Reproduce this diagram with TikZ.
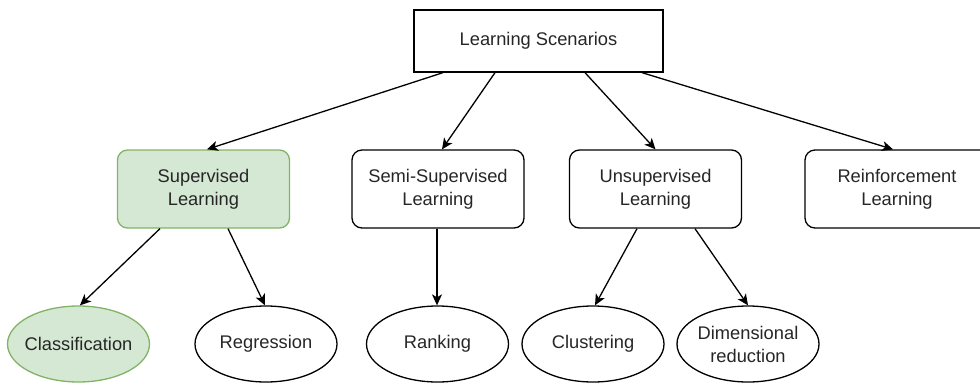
\documentclass[tikz,border=0pt]{standalone}
\usepackage{fontspec}
\setmainfont{Liberation Sans}
\usetikzlibrary{arrows.meta,shapes.geometric}
\definecolor{txt}{HTML}{262626}
\definecolor{greenfill}{HTML}{D5E8D4}
\definecolor{greenline}{HTML}{82B366}
\tikzset{
  base/.style={draw=black, line width=1.3pt, text=txt, align=center, inner sep=0pt,
    font=\fontsize{18.3}{23}\selectfont},
  rootbox/.style={base, rectangle, minimum width=249pt, minimum height=62pt},
  catbox/.style={base, rectangle, rounded corners=10pt, minimum width=172pt, minimum height=78pt},
  leaf/.style={base, ellipse, inner xsep=-6pt, inner ysep=-4pt, minimum width=142pt, minimum height=76pt},
  highlight/.style={fill=greenfill, draw=greenline},
  arr/.style={draw=black, line width=1.3pt, -{Stealth[length=11pt,width=10pt,inset=3pt]}}
}
\begin{document}
\begin{tikzpicture}[x=1pt,y=-1pt]
  \useasboundingbox (0,0) rectangle (980,383);

  % root
  \node[rootbox] (root) at (538.5,41) {Learning Scenarios};

  % categories
  \node[catbox, highlight] (sup)   at (203.5,189) {Supervised\\Learning};
  \node[catbox]            (semi)  at (438,189)   {Semi-Supervised\\Learning};
  \node[catbox]            (unsup) at (655.5,189) {Unsupervised\\Learning};
  % this one runs past the right border; its text is pulled back towards the left
  \node[catbox, minimum width=200pt] (rein) at (905,189)
    {\hspace*{-16pt}Reinforcement\\\hspace*{-16pt}Learning};

  % leaves
  \node[leaf, highlight] (cls) at (78.5,344) {Classification};
  \node[leaf]            (reg) at (266,344)  {Regression};
  \node[leaf]            (rnk) at (437.5,344) {Ranking};
  \node[leaf]            (clu) at (593,344)  {Clustering};
  \node[leaf]            (dim) at (748,344)  {Dimensional\\reduction};

  % connectors from the root
  \draw[arr] ([xshift=-95.5pt]root.south) -- ([xshift=3.5pt]sup.north);
  \draw[arr] ([xshift=-43.5pt]root.south) -- ([xshift=4pt]semi.north);
  \draw[arr] ([xshift=46.5pt]root.south)  -- (unsup.north);
  \draw[arr] ([xshift=103.5pt]root.south) -- ([xshift=-12pt]rein.north);

  % connectors to the leaves
  \draw[arr] ([xshift=-43.5pt]sup.south) -- ([xshift=1.5pt]cls.north);
  \draw[arr] ([xshift=24.5pt]sup.south)  -- ([xshift=-1pt]reg.north);
  \draw[arr] ([xshift=-1pt]semi.south)   -- ([xshift=-0.5pt]rnk.north);
  \draw[arr] ([xshift=-18.5pt]unsup.south) -- ([xshift=2pt]clu.north);
  \draw[arr] ([xshift=39.5pt]unsup.south)  -- (dim.north);
\end{tikzpicture}
\end{document}
